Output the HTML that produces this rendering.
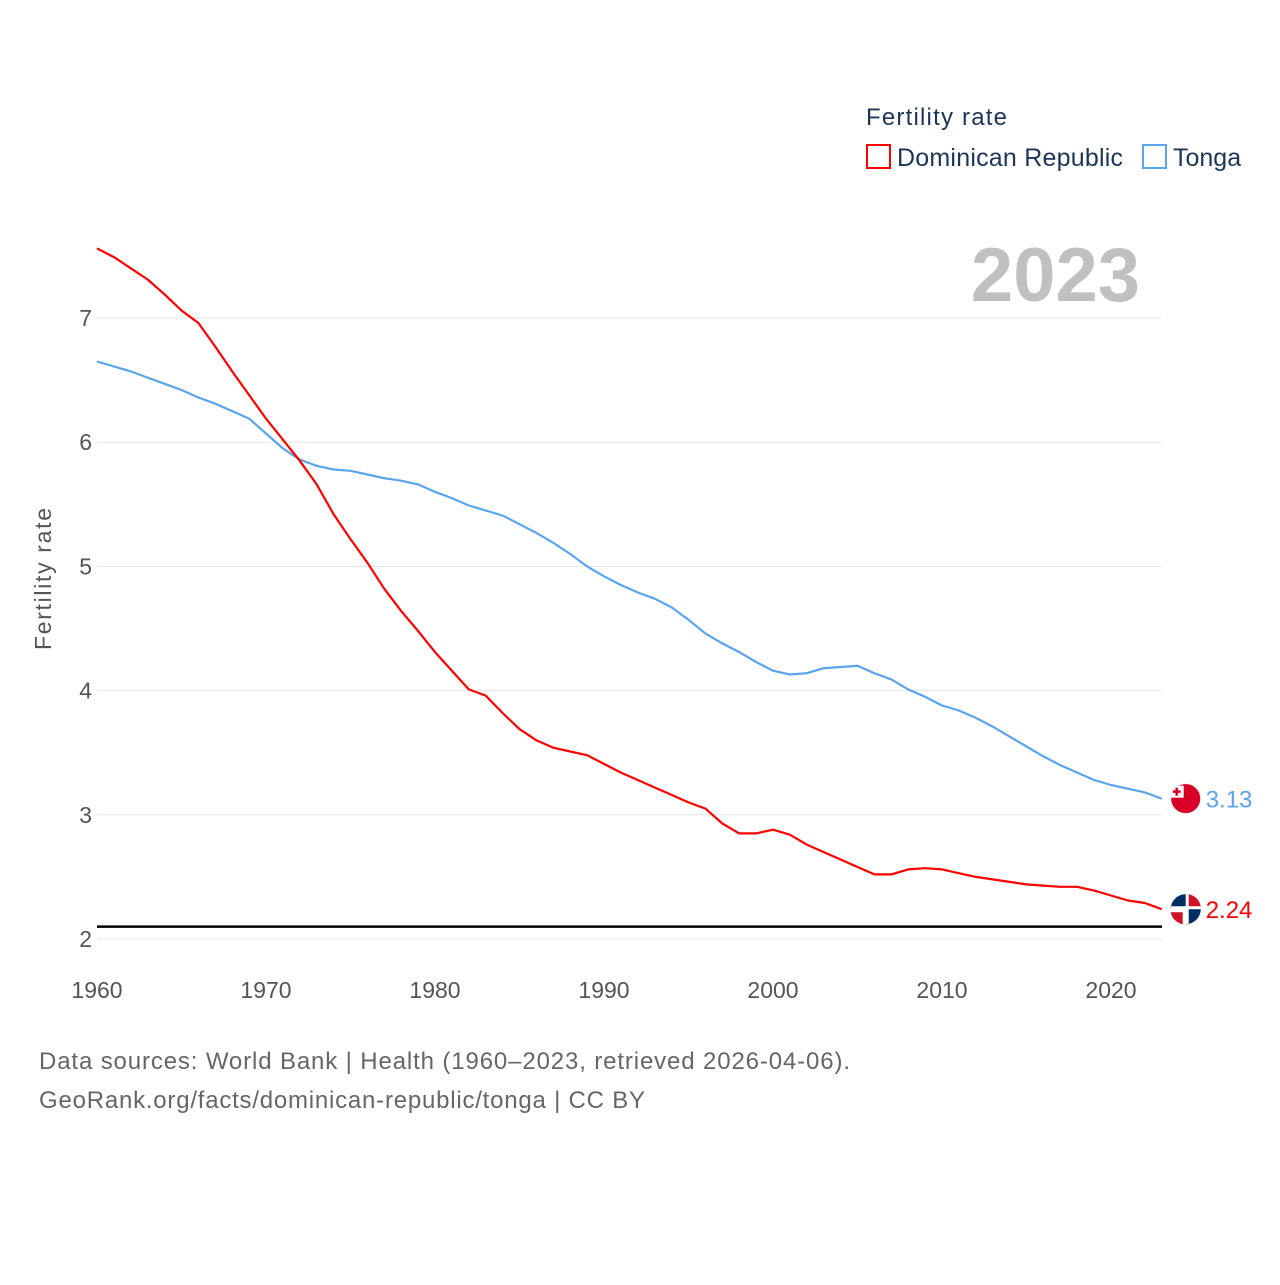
<!DOCTYPE html>
<html><head><meta charset="utf-8"><style>
body{margin:0;background:#fff;font-family:"Liberation Sans",sans-serif;}
svg text{font-family:"Liberation Sans",sans-serif;}
</style></head><body>
<svg id="chart" width="1280" height="1280" viewBox="0 0 1280 1280" xmlns="http://www.w3.org/2000/svg">
<text x="866" y="125" font-size="24" fill="#1d3557" textLength="141">Fertility rate</text>
<g>
<rect x="867" y="145" width="23" height="23" fill="none" stroke="#f00" stroke-width="2"/>
<text x="897" y="166" font-size="25" fill="#1d3557" textLength="226">Dominican Republic</text></g>
<g>
<rect x="1143" y="145" width="23" height="23" fill="none" stroke="#5aa5ee" stroke-width="2"/>
<text x="1173" y="166" font-size="25" fill="#1d3557">Tonga</text></g>
<text x="1140" y="301" font-size="76" font-weight="bold" fill="#c0c0c0" text-anchor="end">2023</text>
<text transform="translate(51,579) rotate(-90)" font-size="23" fill="#555" text-anchor="middle" textLength="142">Fertility rate</text>
<g id="grid"></g><g id="series"></g>
<text x="39" y="1069" font-size="24" fill="#666" textLength="811">Data sources: World Bank | Health (1960–2023, retrieved 2026-04-06).</text>
<text x="39" y="1108" font-size="24" fill="#666" textLength="606">GeoRank.org/facts/dominican-republic/tonga | CC BY</text>
</svg>
<script>
const years=[];for(let y=1960;y<=2023;y++)years.push(y);
const drValues=[7.56,7.49,7.40,7.31,7.19,7.06,6.96,6.77,6.57,6.38,6.19,6.02,5.85,5.66,5.42,5.22,5.03,4.82,4.64,4.48,4.31,4.16,4.01,3.96,3.82,3.69,3.60,3.54,3.51,3.48,3.41,3.34,3.28,3.22,3.16,3.10,3.05,2.93,2.85,2.85,2.88,2.84,2.76,2.70,2.64,2.58,2.52,2.52,2.56,2.57,2.56,2.53,2.50,2.48,2.46,2.44,2.43,2.42,2.42,2.39,2.35,2.31,2.29,2.24];
const tongaValues=[6.65,6.61,6.57,6.52,6.47,6.42,6.36,6.31,6.25,6.19,6.07,5.95,5.86,5.81,5.78,5.77,5.74,5.71,5.69,5.66,5.60,5.55,5.49,5.45,5.41,5.34,5.27,5.19,5.10,5.00,4.92,4.85,4.79,4.74,4.67,4.57,4.46,4.38,4.31,4.23,4.16,4.13,4.14,4.18,4.19,4.20,4.14,4.09,4.01,3.95,3.88,3.84,3.78,3.71,3.63,3.55,3.47,3.40,3.34,3.28,3.24,3.21,3.18,3.13];
const yTicks=[2,3,4,5,6,7];
const xTicks=[1960,1970,1980,1990,2000,2010,2020];
const replacementRate=2.1;
const NS="http://www.w3.org/2000/svg";
const X=y=>97+(y-1960)*16.9, Y=v=>939-(v-2)*124.2;
function mk(t,a,p){const e=document.createElementNS(NS,t);for(const k in a)e.setAttribute(k,a[k]);p.appendChild(e);return e;}
const g=document.getElementById('grid'),s=document.getElementById('series');
yTicks.forEach(v=>{
 const l=mk('line',{x1:97,x2:1162,y1:Y(v),y2:Y(v),stroke:'#e6e6e6','stroke-width':1},g);
 
 
 const t=mk('text',{x:92,y:Y(v)+8,'font-size':23,fill:'#555','text-anchor':'end'},g);t.textContent=v;
 
 
});
xTicks.forEach(v=>{
 const t=mk('text',{x:X(v),y:998,'font-size':23,fill:'#555','text-anchor':'middle'},g);t.textContent=v;
 
 
});
const rl=mk('line',{x1:97,x2:1162,y1:Y(replacementRate),y2:Y(replacementRate),stroke:'#000','stroke-width':2.5},g);


function series(vals,color,name){
 const d=vals.map((v,i)=>(i?'L':'M')+X(years[i]).toFixed(1)+','+Y(v).toFixed(1)).join('');
 const p=mk('path',{d:d,fill:'none',stroke:color,'stroke-width':2.2,'stroke-linejoin':'round'},s);
 
 
 const lv=vals[vals.length-1],cx=X(years[years.length-1])+24,cy=Y(lv);
 const c=mk('circle',{cx:cx,cy:cy,r:15,fill:name==='tonga'?'#d80027':'#fff',stroke:'#eee'},s);
 
 
 if(name==='dominican-republic'){
  mk('path',{d:`M${cx-15},${cy}A15,15 0 0 1 ${cx},${cy-15}V${cy-3}H${cx-15}Z`,fill:'#002d62'},s);
  mk('path',{d:`M${cx},${cy+15}A15,15 0 0 0 ${cx+15},${cy}H${cx+3}V${cy+15}Z`,fill:'#002d62'},s);
  mk('path',{d:`M${cx+15},${cy-3}A15,15 0 0 0 ${cx+3},${cy-15}V${cy-3}Z`,fill:'#ce1126'},s);
  mk('path',{d:`M${cx-15},${cy+3}A15,15 0 0 0 ${cx-3},${cy+15}V${cy+3}Z`,fill:'#ce1126'},s);
 } else {
  mk('rect',{x:cx-15,y:cy-13,width:13,height:12,fill:'#fff'},s);
  mk('path',{d:`M${cx-9},${cy-11}v8M${cx-13},${cy-7}h8`,stroke:'#d80027','stroke-width':2.5},s);
 }
 const t=mk('text',{x:cx+20,y:cy+9,'font-size':24,fill:color},s);t.textContent=lv.toFixed(2);
 
 
}
series(tongaValues,'#5aa5ee','tonga');
series(drValues,'#f00','dominican-republic');
</script>
</body></html>
